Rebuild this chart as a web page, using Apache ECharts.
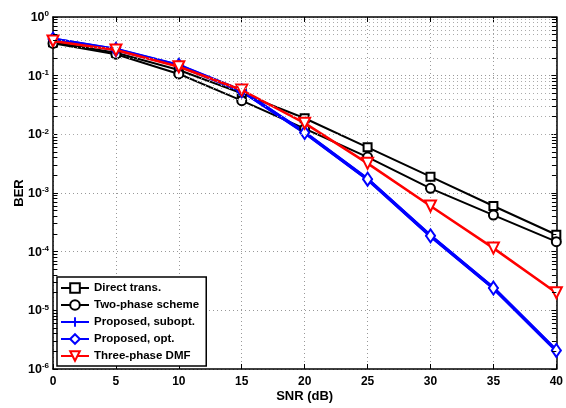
<!DOCTYPE html>
<html>
<head>
<meta charset="utf-8">
<script src="https://cdn.jsdelivr.net/npm/echarts@6/dist/echarts.min.js"></script>
<style>
html,body{margin:0;padding:0;background:#fff;}
#chart{width:566px;height:408px;}
</style>
</head>
<body>
<div id="chart"></div>
<script>
// ---- data ----
var snr = [0, 5, 10, 15, 20, 25, 30, 35, 40];
var directTrans = [0.37, 0.245, 0.125, 0.05, 0.0188, 0.006, 0.0019, 0.0006, 0.000194];
var twoPhase = [0.355, 0.232, 0.107, 0.0375, 0.0125, 0.0041, 0.0012, 0.00042, 0.000148];
var proposedSubopt = [0.42, 0.28, 0.15, 0.055, 0.0107, 0.00172, 0.000186, 0.000024, 0.00000207];
var proposedOpt = [0.42, 0.28, 0.15, 0.055, 0.0107, 0.00172, 0.000186, 0.000024, 0.00000207];
var threePhaseDMF = [0.39, 0.274, 0.142, 0.057, 0.0155, 0.0032, 0.0006, 0.000115, 0.00002];
var seriesNames = ['Direct trans.', 'Two-phase scheme', 'Proposed, subopt.', 'Proposed, opt.', 'Three-phase DMF'];
var xTicks = [0, 5, 10, 15, 20, 25, 30, 35, 40];
var yDecades = [-6, -5, -4, -3, -2, -1, 0];

function pairs(ys) { return snr.map(function (x, i) { return [x, ys[i]]; }); }

// minor log grid values
var minorVals = [];
for (var d = -6; d < 0; d++) { for (var m = 2; m <= 9; m++) { minorVals.push(m * Math.pow(10, d)); } }

var gridLines = minorVals.map(function (v) { return { yAxis: v }; });
var minorTicks = [];
minorVals.forEach(function (v) {
  minorTicks.push([{ coord: [0, v] }, { coord: [0.35, v] }]);
  minorTicks.push([{ coord: [40, v] }, { coord: [39.65, v] }]);
});

var FONT = 'Liberation Sans, Arial, Helvetica, sans-serif';
var plusPath = 'path://M4,0 L6,0 L6,4 L10,4 L10,6 L6,6 L6,10 L4,10 L4,6 L0,6 L0,4 L4,4 Z';

var chart = echarts.init(document.getElementById('chart'), null, { renderer: 'canvas' });
chart.setOption({
  animation: false,
  backgroundColor: '#fff',
  grid: { left: 53, right: 5, top: 17, bottom: 39, containLabel: false },
  legend: {
    data: seriesNames,
    orient: 'vertical',
    left: 57, top: 277,
    itemWidth: 28, itemHeight: 12, itemGap: 5,
    padding: [5, 7, 4, 3],
    backgroundColor: '#fff',
    borderColor: '#000', borderWidth: 1.5, borderRadius: 0,
    textStyle: { fontFamily: FONT, fontSize: 11.5, fontWeight: 'bold', color: '#000' }
  },
  xAxis: [{
    type: 'value', min: 0, max: 40, interval: 5, position: 'bottom',
    name: 'SNR (dB)', nameLocation: 'middle', nameGap: 21, nameMoveOverlap: false,
    nameTextStyle: { fontFamily: FONT, fontSize: 13, fontWeight: 'bold', color: '#000' },
    axisLine: { onZero: false, lineStyle: { color: '#000', width: 1.5 } },
    axisTick: { inside: true, length: 5, lineStyle: { color: '#000' } },
    axisLabel: { fontFamily: FONT, fontSize: 12, fontWeight: 'bold', color: '#000', margin: 7,
      formatter: function (v) { return xTicks.indexOf(v) >= 0 ? String(v) : ''; } },
    splitLine: { show: true, lineStyle: { color: '#999', type: [1, 3], width: 1 } }
  }, {
    type: 'value', min: 0, max: 40, interval: 5, position: 'top',
    axisLine: { onZero: false, lineStyle: { color: '#000', width: 1.5 } },
    axisTick: { inside: true, length: 5, lineStyle: { color: '#000' } },
    axisLabel: { show: false }, splitLine: { show: false }
  }],
  yAxis: [{
    type: 'log', logBase: 10, min: 1e-6, max: 1, position: 'left',
    name: 'BER', nameLocation: 'middle', nameGap: 27, nameMoveOverlap: false,
    nameTextStyle: { fontFamily: FONT, fontSize: 13, fontWeight: 'bold', color: '#000' },
    axisLine: { onZero: false, lineStyle: { color: '#000', width: 1.5 } },
    axisTick: { inside: true, length: 5, lineStyle: { color: '#000' } },
    axisLabel: {
      margin: 4, color: '#000',
      formatter: function (v) {
        var e = Math.round(Math.log10(v));
        if (yDecades.indexOf(e) < 0) return '';
        return '{b|10}{s|' + e + '}';
      },
      rich: {
        b: { fontFamily: FONT, fontSize: 12.5, fontWeight: 'bold', color: '#000', verticalAlign: 'bottom', lineHeight: 14 },
        s: { fontFamily: FONT, fontSize: 8, fontWeight: 'bold', color: '#000', verticalAlign: 'top', padding: [0, 0, 6, 0], lineHeight: 10 }
      }
    },
    splitLine: { show: true, lineStyle: { color: '#999', type: [1, 3], width: 1 } }
  }, {
    type: 'log', logBase: 10, min: 1e-6, max: 1, position: 'right',
    axisLine: { onZero: false, lineStyle: { color: '#000', width: 1.5 } },
    axisTick: { inside: true, length: 5, lineStyle: { color: '#000' } },
    axisLabel: { show: false }, splitLine: { show: false }
  }],
  series: [
    {
      name: '_grid', type: 'line', data: [], silent: true, z: 1,
      markLine: {
        silent: true, symbol: ['none', 'none'], label: { show: false },
        lineStyle: { color: '#aaa', type: [1, 3], width: 1 },
        emphasis: { disabled: true },
        data: gridLines
      }
    },
    {
      name: '_ticks', type: 'line', data: [], silent: true, z: 1,
      markLine: {
        silent: true, symbol: ['none', 'none'], label: { show: false },
        lineStyle: { color: '#000', type: 'solid', width: 1 },
        emphasis: { disabled: true },
        data: minorTicks
      }
    },
    {
      name: seriesNames[0], type: 'line', data: pairs(directTrans), z: 3,
      symbol: 'emptyRect', symbolSize: 8, color: '#000',
      lineStyle: { color: '#000', width: 2 },
      itemStyle: { color: '#000', borderWidth: 1.5 }
    },
    {
      name: seriesNames[1], type: 'line', data: pairs(twoPhase), z: 3,
      symbol: 'emptyCircle', symbolSize: 9, color: '#000',
      lineStyle: { color: '#000', width: 2 },
      itemStyle: { color: '#000', borderWidth: 1.5 }
    },
    {
      name: seriesNames[2], type: 'line', data: pairs(proposedSubopt), z: 3,
      symbol: plusPath, symbolSize: 10, color: '#0000ff',
      lineStyle: { color: '#0000ff', width: 3.5 },
      itemStyle: { color: '#0000ff' }
    },
    {
      name: seriesNames[3], type: 'line', data: pairs(proposedOpt), z: 3,
      symbol: 'emptyDiamond', symbolSize: [9, 13], color: '#0000ff',
      lineStyle: { color: '#0000ff', width: 3 },
      itemStyle: { color: '#0000ff', borderWidth: 2.5 }
    },
    {
      name: seriesNames[4], type: 'line', data: pairs(threePhaseDMF), z: 4,
      symbol: 'emptyTriangle', symbolRotate: 180, symbolSize: 11, color: '#ff0000',
      lineStyle: { color: '#ff0000', width: 2.5 },
      itemStyle: { color: '#ff0000', borderWidth: 2 }
    }
  ]
});
</script>
</body>
</html>
